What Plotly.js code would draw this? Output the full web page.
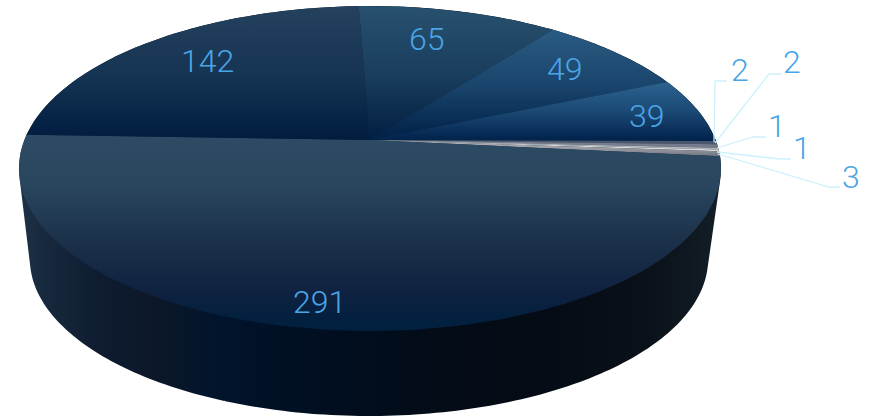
<!DOCTYPE html>
<html><head><meta charset="utf-8">
<script src="https://cdn.plot.ly/plotly-3.0.1.min.js"></script>
<style>html,body{margin:0;padding:0;background:#fff}#c{width:873px;height:418px}</style>
</head><body><div id="c"></div>
<script>
// Data, clockwise from the top of the pie
const sliceValues = [65, 49, 39, 2, 2, 1, 1, 3, 291, 142];
const sliceTopColors = ['#28516f','#2a5b82','#2c628f','#46556c','#7b8290','#b9bbc2','#e4e4e6','#b5b6bb','#2d4b64','#24425e'];
const sliceBottomColors = ['#021e42','#002047','#00214a','#4a5870','#70778a','#b0b2b8','#d8d8da','#70757f','#01203f','#001d40'];
const sliceLabelX = [427, 565, 647, 740, 792, 777, 802, 851, 319, 207];
const sliceLabelY = [39, 69, 116, 70, 62, 126, 148, 177, 302, 61];
const startAngle = -2.2;

// Perspective of the pie
const CX=370, CY=140, R=345.6, A=132.95, K=-0.1754;
const topPt=(deg)=>{const t=deg*Math.PI/180,u=Math.sin(t),v=-Math.cos(t),d=1+K*v;
  return [CX+R*u/d,(A*v+CY)/d];};
const S=0.966;
const botPt=(deg)=>{const p=topPt(deg);return [369+S*(p[0]-370),259+S*(p[1]-168.5)];};
const innerPt=(deg,f)=>{const p=topPt(deg);return [370+f*(p[0]-370),168.5+f*(p[1]-168.5)];};
const arc=(fn,a,b)=>{const o=[],n=Math.max(2,Math.ceil(Math.abs(b-a)));for(let i=0;i<=n;i++)o.push(fn(a+(b-a)*i/n));return o;};
function mix(a,b,w){const h=s=>[1,3,5].map(k=>parseInt(s.substr(k,2),16));const x=h(a),y=h(b);
  return 'rgb('+x.map((v,k)=>Math.round(v*w+y[k]*(1-w))).join(',')+')';}
const area=q=>{let s=0;for(let i=0;i<q.length-1;i++)s+=q[i][0]*q[i+1][1]-q[i+1][0]*q[i][1];return s;};

const total=sliceValues.reduce((a,b)=>a+b,0);
let acc=startAngle;
const spans=sliceValues.map(v=>{const s=[acc,acc+v/total*360];acc=s[1];return s;});

const sideScale=[[0,'#1e3246'],[0.03,'#182a3f'],[0.12,'#0e1b30'],[0.2,'#0c1829'],[0.28,'#02142c'],[0.4,'#000f22'],[0.62,'#030b16'],[0.76,'#050c15'],[0.9,'#0a1119'],[1,'#131e26']];
const traces=[];
// Side walls: triangles all wound the same way, tucked a little under the top face
spans.forEach((s)=>{
  const xs=[],ys=[];
  const add=(p,q,r)=>{let t=[p,q,r,p];if(area(t)<0)t=t.reverse();
    t.forEach(c=>{xs.push(c[0]);ys.push(c[1]);});xs.push(null);ys.push(null);};
  const n=Math.max(1,Math.ceil(s[1]-s[0]));
  for(let k=0;k<n;k++){
    const a=s[0]+(s[1]-s[0])*k/n, b=s[0]+(s[1]-s[0])*(k+1)/n;
    const ta=topPt(a),tb=topPt(b),ba=botPt(a),bb=botPt(b),ia=innerPt(a,0.98),ib=innerPt(b,0.98);
    add(ta,tb,bb);add(ta,bb,ba);add(ta,tb,ba);add(tb,bb,ba);
    add(ta,tb,ib);add(ta,ib,ia);
  }
  traces.push({type:'scatter',mode:'lines',x:xs,y:ys,connectgaps:false,
    line:{width:0,simplify:false},fill:'toself',hoverinfo:'skip',showlegend:false,
    fillgradient:{type:'horizontal',start:19,stop:721,colorscale:sideScale}});
});
// Dark backing under the top faces
const disc=arc(d=>innerPt(d,0.985),0,360);
traces.push({type:'scatter',mode:'lines',x:disc.map(p=>p[0]),y:disc.map(p=>p[1]),
  line:{width:0},fill:'toself',fillcolor:'#10263f',hoverinfo:'skip',showlegend:false});
// Top faces
spans.forEach((s,i)=>{
  const pts=[[CX,CY]].concat(arc(topPt,s[0],s[1]));
  pts.push([CX,CY]);
  const ys=pts.map(p=>p[1]);
  traces.push({type:'scatter',mode:'lines',x:pts.map(p=>p[0]),y:ys,
    line:{width:0},fill:'toself',hoverinfo:'skip',showlegend:false,
    fillgradient:{type:'vertical',start:Math.min(...ys),stop:Math.max(...ys),
      colorscale:i===8
        ?[[0,sliceTopColors[i]],[0.25,'#2a465f'],[0.55,'#1b3049'],[0.8,'#0f2240'],[0.93,'#04203f'],[1,sliceBottomColors[i]]]
        :[[0,sliceTopColors[i]],[0.5,mix(sliceTopColors[i],sliceBottomColors[i],0.62)],[1,sliceBottomColors[i]]]}});
});
// Leader lines for the small slices
const leaderElbowX=[715,769,753,780,829], leaderEndX=[727,782,766,791,840];
const leaderElbowY=[81,74,137,159,187];
const leaderStartX=[714,715,717,717,718], leaderStartY=[142,143,148,152,154];
leaderElbowX.forEach((ex,i)=>{
  traces.push({type:'scatter',mode:'lines',
    x:[leaderStartX[i],ex,leaderEndX[i]],y:[leaderStartY[i],leaderElbowY[i],leaderElbowY[i]],
    line:{color:'#cdf1fb',width:1.3},hoverinfo:'skip',showlegend:false});
});
const annotations=sliceValues.map((v,i)=>({x:sliceLabelX[i],y:sliceLabelY[i],xref:'x',yref:'y',
  text:String(v),showarrow:false,xanchor:'center',yanchor:'middle',
  font:{family:'Roboto, sans-serif',size:32,color:'#4aa5e6',weight:300}}));
Plotly.newPlot('c',traces,{
  width:873,height:418,margin:{l:0,r:0,t:0,b:0},paper_bgcolor:'#fff',plot_bgcolor:'#fff',showlegend:false,
  xaxis:{range:[0,873],visible:false,fixedrange:true},
  yaxis:{range:[418,0],visible:false,fixedrange:true},
  annotations
},{staticPlot:true,displayModeBar:false});
</script></body></html>
